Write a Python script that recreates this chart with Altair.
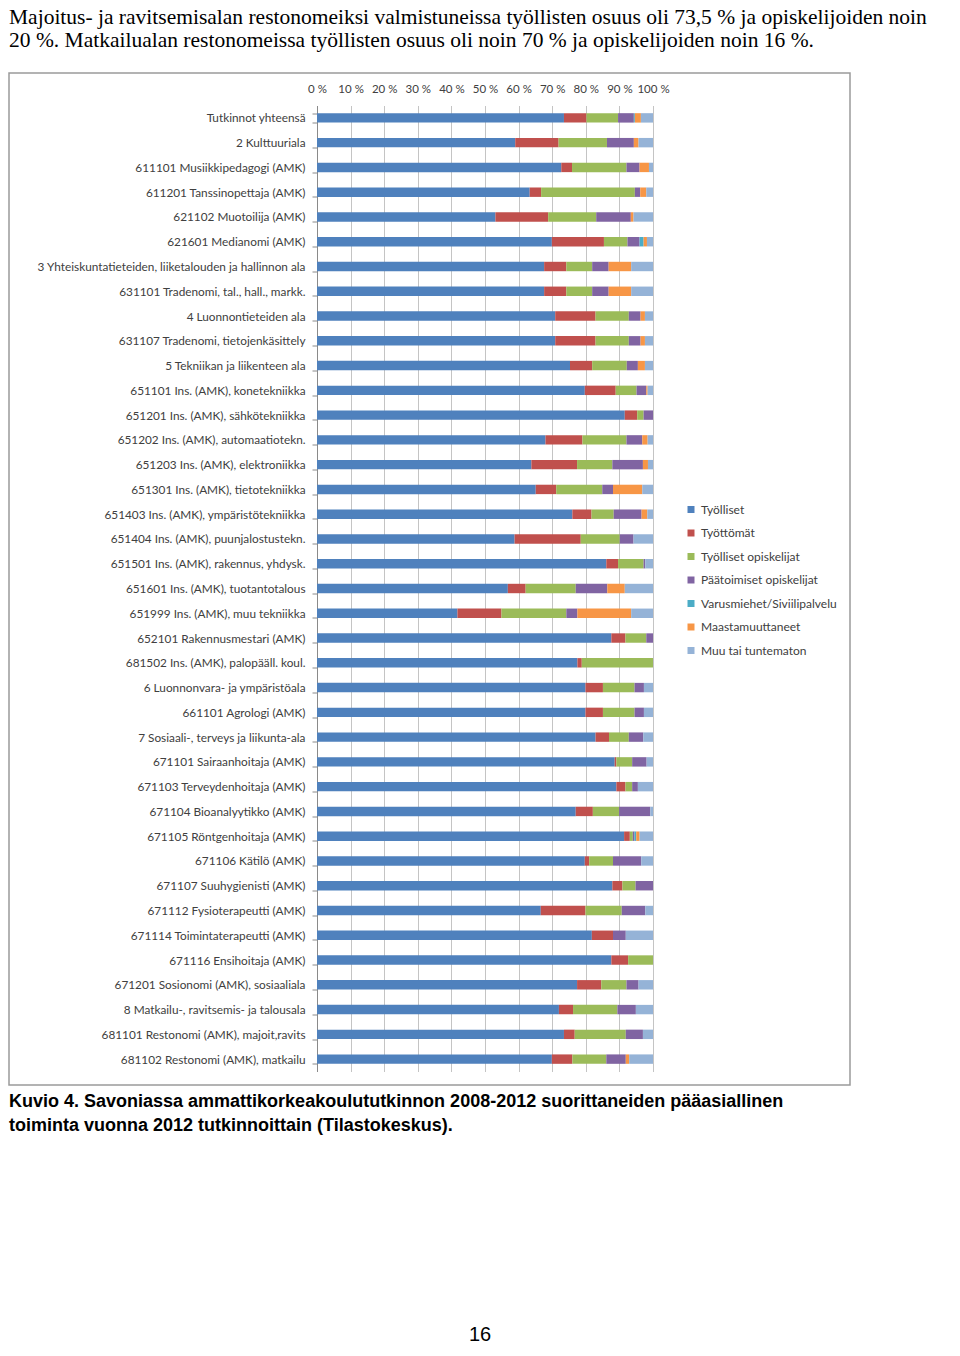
import altair as alt
import pandas as pd

categories = [
    "Tutkinnot yhteensä",
    "2 Kulttuuriala",
    "611101 Musiikkipedagogi (AMK)",
    "611201 Tanssinopettaja (AMK)",
    "621102 Muotoilija (AMK)",
    "621601 Medianomi (AMK)",
    "3 Yhteiskuntatieteiden, liiketalouden ja hallinnon ala",
    "631101 Tradenomi, tal., hall., markk.",
    "4 Luonnontieteiden ala",
    "631107 Tradenomi, tietojenkäsittely",
    "5 Tekniikan ja liikenteen ala",
    "651101 Ins. (AMK), konetekniikka",
    "651201 Ins. (AMK), sähkötekniikka",
    "651202 Ins. (AMK), automaatiotekn.",
    "651203 Ins. (AMK), elektroniikka",
    "651301 Ins. (AMK), tietotekniikka",
    "651403 Ins. (AMK), ympäristötekniikka",
    "651404 Ins. (AMK), puunjalostustekn.",
    "651501 Ins. (AMK), rakennus, yhdysk.",
    "651601 Ins. (AMK), tuotantotalous",
    "651999 Ins. (AMK), muu tekniikka",
    "652101 Rakennusmestari (AMK)",
    "681502 Ins. (AMK), palopääll. koul.",
    "6 Luonnonvara- ja ympäristöala",
    "661101 Agrologi (AMK)",
    "7 Sosiaali-, terveys ja liikunta-ala",
    "671101 Sairaanhoitaja (AMK)",
    "671103 Terveydenhoitaja (AMK)",
    "671104 Bioanalyytikko (AMK)",
    "671105 Röntgenhoitaja (AMK)",
    "671106 Kätilö (AMK)",
    "671107 Suuhygienisti (AMK)",
    "671112 Fysioterapeutti (AMK)",
    "671114 Toimintaterapeutti (AMK)",
    "671116 Ensihoitaja (AMK)",
    "671201 Sosionomi (AMK), sosiaaliala",
    "8 Matkailu-, ravitsemis- ja talousala",
    "681101 Restonomi (AMK), majoit,ravits",
    "681102 Restonomi (AMK), matkailu",
]

series = [
    "Työlliset",
    "Työttömät",
    "Työlliset opiskelijat",
    "Päätoimiset opiskelijat",
    "Varusmiehet/Siviilipalvelu",
    "Maastamuuttaneet",
    "Muu tai tuntematon",
]

tyolliset = [73.5, 59.0, 72.7, 63.3, 53.1, 69.9, 67.6, 67.6, 70.9, 70.9, 75.3, 79.7, 91.6,
             68.0, 63.8, 65.1, 76.0, 58.8, 86.1, 56.8, 41.8, 87.6, 77.5, 79.9, 79.9, 82.9,
             88.6, 89.1, 77.0, 91.4, 79.7, 87.9, 66.6, 81.8, 87.6, 77.4, 72.0, 73.5, 69.9]
tyottomat = [6.7, 12.9, 3.2, 3.4, 15.7, 15.5, 6.6, 6.6, 12.0, 12.0, 6.6, 9.2, 3.7,
             11.0, 13.6, 6.1, 5.7, 19.7, 3.5, 5.3, 13.1, 4.2, 1.3, 5.2, 5.2, 4.0,
             0.5, 2.7, 5.1, 1.7, 1.3, 3.0, 13.3, 6.3, 5.0, 7.2, 4.2, 3.2, 6.1]
tyolliset_opisk = [9.4, 14.4, 16.2, 27.9, 14.3, 7.0, 7.7, 7.7, 9.9, 9.9, 10.3, 6.2, 1.9,
                   13.1, 10.5, 13.7, 6.6, 11.6, 7.6, 14.9, 19.3, 6.2, 21.2, 9.4, 9.4, 5.9,
                   4.7, 2.0, 7.8, 0.9, 7.1, 3.9, 10.8, 0.0, 7.4, 7.5, 13.2, 15.2, 10.1]
paatoimiset = [4.7, 8.0, 3.9, 1.6, 10.3, 3.6, 4.9, 4.9, 3.5, 3.5, 3.3, 2.9, 2.8,
               4.7, 9.1, 3.2, 8.3, 4.1, 0.5, 9.4, 3.3, 2.0, 0.0, 2.8, 2.8, 4.3,
               4.3, 1.7, 9.3, 0.5, 8.4, 5.2, 7.0, 3.8, 0.0, 3.6, 5.5, 5.1, 5.8]
varusmiehet = [0.3, 0.0, 0.0, 0.0, 0.0, 1.2, 0.0, 0.0, 0.0, 0.0, 0.0, 0.0, 0.0,
               0.0, 0.0, 0.0, 0.0, 0.0, 0.0, 0.0, 0.0, 0.0, 0.0, 0.0, 0.0, 0.0,
               0.0, 0.0, 0.0, 0.5, 0.0, 0.0, 0.0, 0.0, 0.0, 0.0, 0.0, 0.0, 0.0]
maastamuuttaneet = [1.8, 1.4, 2.8, 1.8, 0.8, 1.0, 6.7, 6.7, 1.3, 1.3, 2.1, 0.4, 0.0,
                    1.6, 1.5, 8.7, 1.7, 0.0, 0.0, 5.2, 16.0, 0.0, 0.0, 0.0, 0.0, 0.0,
                    0.0, 0.0, 0.0, 1.0, 0.0, 0.0, 0.0, 0.0, 0.0, 0.0, 0.0, 0.0, 1.0]
muu = [3.6, 4.3, 1.2, 2.0, 5.8, 1.8, 6.5, 6.5, 2.4, 2.4, 2.4, 1.6, 0.0,
       1.6, 1.5, 3.2, 1.7, 5.8, 2.3, 8.4, 6.5, 0.0, 0.0, 2.7, 2.7, 2.9,
       1.9, 4.5, 0.8, 4.0, 3.5, 0.0, 2.3, 8.1, 0.0, 4.3, 5.1, 3.0, 7.1]

colors = ["#4F81BD", "#C0504D", "#9BBB59", "#8064A2", "#4BACC6", "#F79646", "#95B3D7"]
x_ticks = [0, 0.1, 0.2, 0.3, 0.4, 0.5, 0.6, 0.7, 0.8, 0.9, 1.0]

header1 = "Majoitus- ja ravitsemisalan restonomeiksi valmistuneissa työllisten osuus oli 73,5 % ja opiskelijoiden noin"
header2 = "20 %. Matkailualan restonomeissa työllisten osuus oli noin 70 % ja opiskelijoiden noin 16 %."
caption1 = "Kuvio 4. Savoniassa ammattikorkeakoulututkinnon 2008-2012 suorittaneiden pääasiallinen"
caption2 = "toiminta vuonna 2012 tutkinnoittain (Tilastokeskus)."
page_no = "16"

all_series = [tyolliset, tyottomat, tyolliset_opisk, paatoimiset, varusmiehet, maastamuuttaneet, muu]
rows = []
for si, (name, vals) in enumerate(zip(series, all_series)):
    for cat, v in zip(categories, vals):
        if v > 0:
            rows.append({"kategoria": cat, "tila": name, "osuus": v, "jarj": si})
df = pd.DataFrame(rows)

# plot origin in page pixels
OX, OY = 317, 105.5
W, H = 336, 966

bars = alt.Chart(df).mark_bar().encode(
    x=alt.X(
        "osuus:Q", stack="normalize",
        scale=alt.Scale(domain=[0, 1], nice=False),
        axis=alt.Axis(
            orient="top", values=x_ticks, title=None,
            labelExpr="round(datum.value*100) + ' %'",
            labelFont="Lato", labelFontSize=11.5, labelColor="#404040",
            labelOverlap=False, labelBound=False, labelFlush=False,
            ticks=False, tickSize=0, domain=False, labelPadding=11,
            grid=True, gridColor="#c4c4c4", gridWidth=1,
        ),
    ),
    y=alt.Y(
        "kategoria:N", sort=categories,
        scale=alt.Scale(paddingInner=0.62, paddingOuter=0.31),
        axis=alt.Axis(
            title=None, labelFont="Lato", labelFontSize=11.8, labelColor="#404040",
            labelLimit=400, labelPadding=7, tickBand="extent", tickSize=5,
            tickColor="#8a8a8a", domainColor="#8a8a8a", grid=False,
        ),
    ),
    color=alt.Color(
        "tila:N",
        scale=alt.Scale(domain=series, range=colors),
        legend=alt.Legend(
            title=None, orient="none", legendX=368, legendY=398,
            symbolType="square", symbolSize=49, symbolStrokeWidth=0,
            labelFont="Lato", labelFontSize=12, labelColor="#404040",
            rowPadding=11.5, labelOffset=4, padding=0,
        ),
    ),
    order=alt.Order("jarj:Q", sort="ascending"),
)


def note(text, x, y, font, size, weight="normal", align="left"):
    return alt.Chart(pd.DataFrame({"t": [text]})).mark_text(
        align=align, baseline="alphabetic", font=font, fontSize=size,
        fontWeight=weight, color="black",
    ).encode(text="t:N", x=alt.value(x - OX), y=alt.value(y - OY))


frame = alt.Chart(pd.DataFrame({"a": [0]})).mark_rect(
    color="white", fillOpacity=0, stroke="#9a9a9a", strokeWidth=1.5,
).encode(
    x=alt.value(9 - OX), x2=alt.value(850 - OX),
    y=alt.value(73 - OY), y2=alt.value(1085 - OY),
)

layers = [
    frame,
    bars,
    note(header1, 9, 24, "Liberation Serif", 21.5),
    note(header2, 9, 47, "Liberation Serif", 21.5),
    note(caption1, 9, 1107, "Liberation Sans", 18, "bold"),
    note(caption2, 9, 1131, "Liberation Sans", 18, "bold"),
    note(page_no, 480, 1341, "Liberation Sans", 20, "normal", "center"),
]

chart = alt.layer(*layers).properties(
    width=W, height=H,
    autosize=alt.AutoSizeParams(type="none"),
    padding={"left": OX - 8, "top": OY - 8, "right": 295, "bottom": 272.5},
).configure_view(strokeWidth=0)

chart.save("out.html", embed_options={"renderer": "svg", "actions": False})
